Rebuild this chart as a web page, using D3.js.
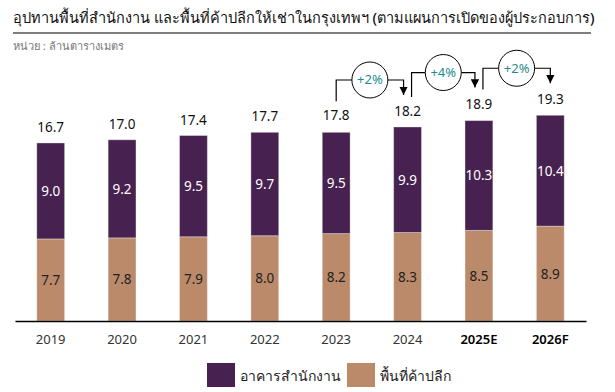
<!DOCTYPE html>
<html>
<head>
<meta charset="utf-8">
<script src="https://cdn.jsdelivr.net/npm/d3@7"></script>
<style>
  body { margin: 0; background: #fff; }
  svg { font-family: "Noto Sans", "Open Sans", sans-serif; }
</style>
</head>
<body>
<div id="chart"></div>
<script>
// chart data
var years = ["2019", "2020", "2021", "2022", "2023", "2024", "2025E", "2026F"];
var retail = [7.7, 7.8, 7.9, 8.0, 8.2, 8.3, 8.5, 8.9];
var office = [9.0, 9.2, 9.5, 9.7, 9.5, 9.9, 10.3, 10.4];
var totals = [16.7, 17.0, 17.4, 17.7, 17.8, 18.2, 18.9, 19.3];
var growthFrom = [4, 5, 6];
var growthLabels = ["+2%", "+4%", "+2%"];
var seriesNames = ["อาคารสำนักงาน", "พื้นที่ค้าปลีก"];

var svgWidth = 615;
var svgHeight = 392;
var colors = { office: "#47214f", retail: "#ba8a6a" };

var svg = d3.select("#chart")
  .append("svg")
  .attr("width", svgWidth)
  .attr("height", svgHeight);

// title + rule + unit
svg.append("text")
  .attr("x", 13)
  .attr("y", 23)
  .attr("font-size", 14.5)
  .attr("font-weight", 500)
  .attr("fill", "#111")
  .text("อุปทานพื้นที่สำนักงาน และพื้นที่ค้าปลีกให้เช่าในกรุงเทพฯ (ตามแผนการเปิดของผู้ประกอบการ)");

svg.append("line")
  .attr("x1", 13).attr("x2", 591)
  .attr("y1", 33).attr("y2", 33)
  .attr("stroke", "#555")
  .attr("stroke-width", 1.5);

svg.append("text")
  .attr("x", 13)
  .attr("y", 50)
  .attr("font-size", 11)
  .attr("fill", "#777")
  .text("หน่วย : ล้านตารางเมตร");

// scales
var x = d3.scaleBand()
  .domain(years)
  .range([15, 586])
  .paddingInner(0.61)
  .paddingOuter(0.305);

var y = d3.scaleLinear()
  .domain([0, 20])
  .range([321, 107.8]);

var rows = years.map(function(yr, i) {
  return { year: yr, retail: retail[i], office: office[i], total: totals[i] };
});

var stack = d3.stack().keys(["retail", "office"]);
var layers = stack(rows);

var barGroup = svg.append("g");

barGroup.selectAll("g")
  .data(layers)
  .join("g")
  .attr("fill", d => colors[d.key])
  .selectAll("rect")
  .data(d => d)
  .join("rect")
  .attr("x", d => x(d.data.year))
  .attr("y", d => y(d[1]))
  .attr("width", x.bandwidth())
  .attr("height", d => y(d[0]) - y(d[1]))
  .attr("stroke", "#fff")
  .attr("stroke-opacity", 0.35)
  .attr("stroke-width", 1);

// segment labels
layers.forEach(function(layer) {
  barGroup.selectAll(null)
    .data(layer)
    .join("text")
    .attr("x", d => x(d.data.year) + x.bandwidth() / 2)
    .attr("y", d => (y(d[0]) + y(d[1])) / 2 + 5)
    .attr("text-anchor", "middle")
    .attr("font-size", 13.5)
    .attr("fill", layer.key === "office" ? "#fff" : "#222")
    .text(d => (layer.key === "office" ? d.data.office : d.data.retail).toFixed(1));
});

// totals
barGroup.selectAll(null)
  .data(rows)
  .join("text")
  .attr("x", d => x(d.year) + x.bandwidth() / 2)
  .attr("y", d => y(d.total) - 11)
  .attr("text-anchor", "middle")
  .attr("font-size", 13.5)
  .attr("fill", "#111")
  .text(d => d.total.toFixed(1));

// x axis
var xAxis = svg.append("g")
  .attr("transform", "translate(0, 321)")
  .call(d3.axisBottom(x).tickSize(0).tickSizeOuter(0).tickPadding(14));

xAxis.select(".domain")
  .attr("stroke", "#000")
  .attr("stroke-width", 1.5);

xAxis.selectAll("text")
  .attr("font-size", 13)
  .attr("font-family", "\"Noto Sans\", sans-serif")
  .attr("fill", d => d.length > 4 ? "#000" : "#333")
  .attr("font-weight", d => d.length > 4 ? 600 : 400);

// growth arrows
svg.append("defs").append("marker")
  .attr("id", "arrow")
  .attr("viewBox", "0 0 10 10")
  .attr("refX", 10)
  .attr("refY", 5)
  .attr("markerWidth", 7)
  .attr("markerHeight", 7)
  .attr("orient", "auto")
  .append("path")
  .attr("d", "M0,0 L10,5 L0,10 Z")
  .attr("fill", "#000");

var growthGroup = svg.append("g");

growthFrom.forEach(function(i, k) {
  var cx0 = x(years[i]) + x.bandwidth() / 2 + (k === 0 ? 0 : 4);
  var cx1 = x(years[i + 1]) + x.bandwidth() / 2 - (k === 2 ? 0 : 4);
  var level = y(totals[i + 1]) - 47;
  var r = 18;
  var mid = (cx0 + cx1) / 2;

  growthGroup.append("path")
    .attr("d", "M" + cx0 + "," + (y(totals[i]) - 30) + " V" + level + " H" + (mid - r))
    .attr("fill", "none")
    .attr("stroke", "#000")
    .attr("stroke-width", 1.2);

  growthGroup.append("path")
    .attr("d", "M" + (mid + r) + "," + level + " H" + cx1 + " V" + (y(totals[i + 1]) - 32))
    .attr("fill", "none")
    .attr("stroke", "#000")
    .attr("stroke-width", 1.2)
    .attr("marker-end", "url(#arrow)");

  growthGroup.append("circle")
    .attr("cx", mid)
    .attr("cy", level)
    .attr("r", r)
    .attr("fill", "#fff")
    .attr("stroke", "#000")
    .attr("stroke-width", 1);

  growthGroup.append("text")
    .attr("x", mid)
    .attr("y", level + 4.5)
    .attr("text-anchor", "middle")
    .attr("font-size", 13)
    .attr("fill", "#1e8c8c")
    .text(growthLabels[k]);
});

// legend
var legend = svg.append("g");
var legendItems = [
  { name: seriesNames[0], color: colors.office, x: 207 },
  { name: seriesNames[1], color: colors.retail, x: 347 }
];

legend.selectAll("rect")
  .data(legendItems)
  .join("rect")
  .attr("x", d => d.x)
  .attr("y", 363)
  .attr("width", 28)
  .attr("height", 24)
  .attr("fill", d => d.color);

legend.selectAll("text")
  .data(legendItems)
  .join("text")
  .attr("x", d => d.x + 33)
  .attr("y", 381)
  .attr("font-size", 14)
  .attr("fill", "#222")
  .text(d => d.name);
</script>
</body>
</html>
